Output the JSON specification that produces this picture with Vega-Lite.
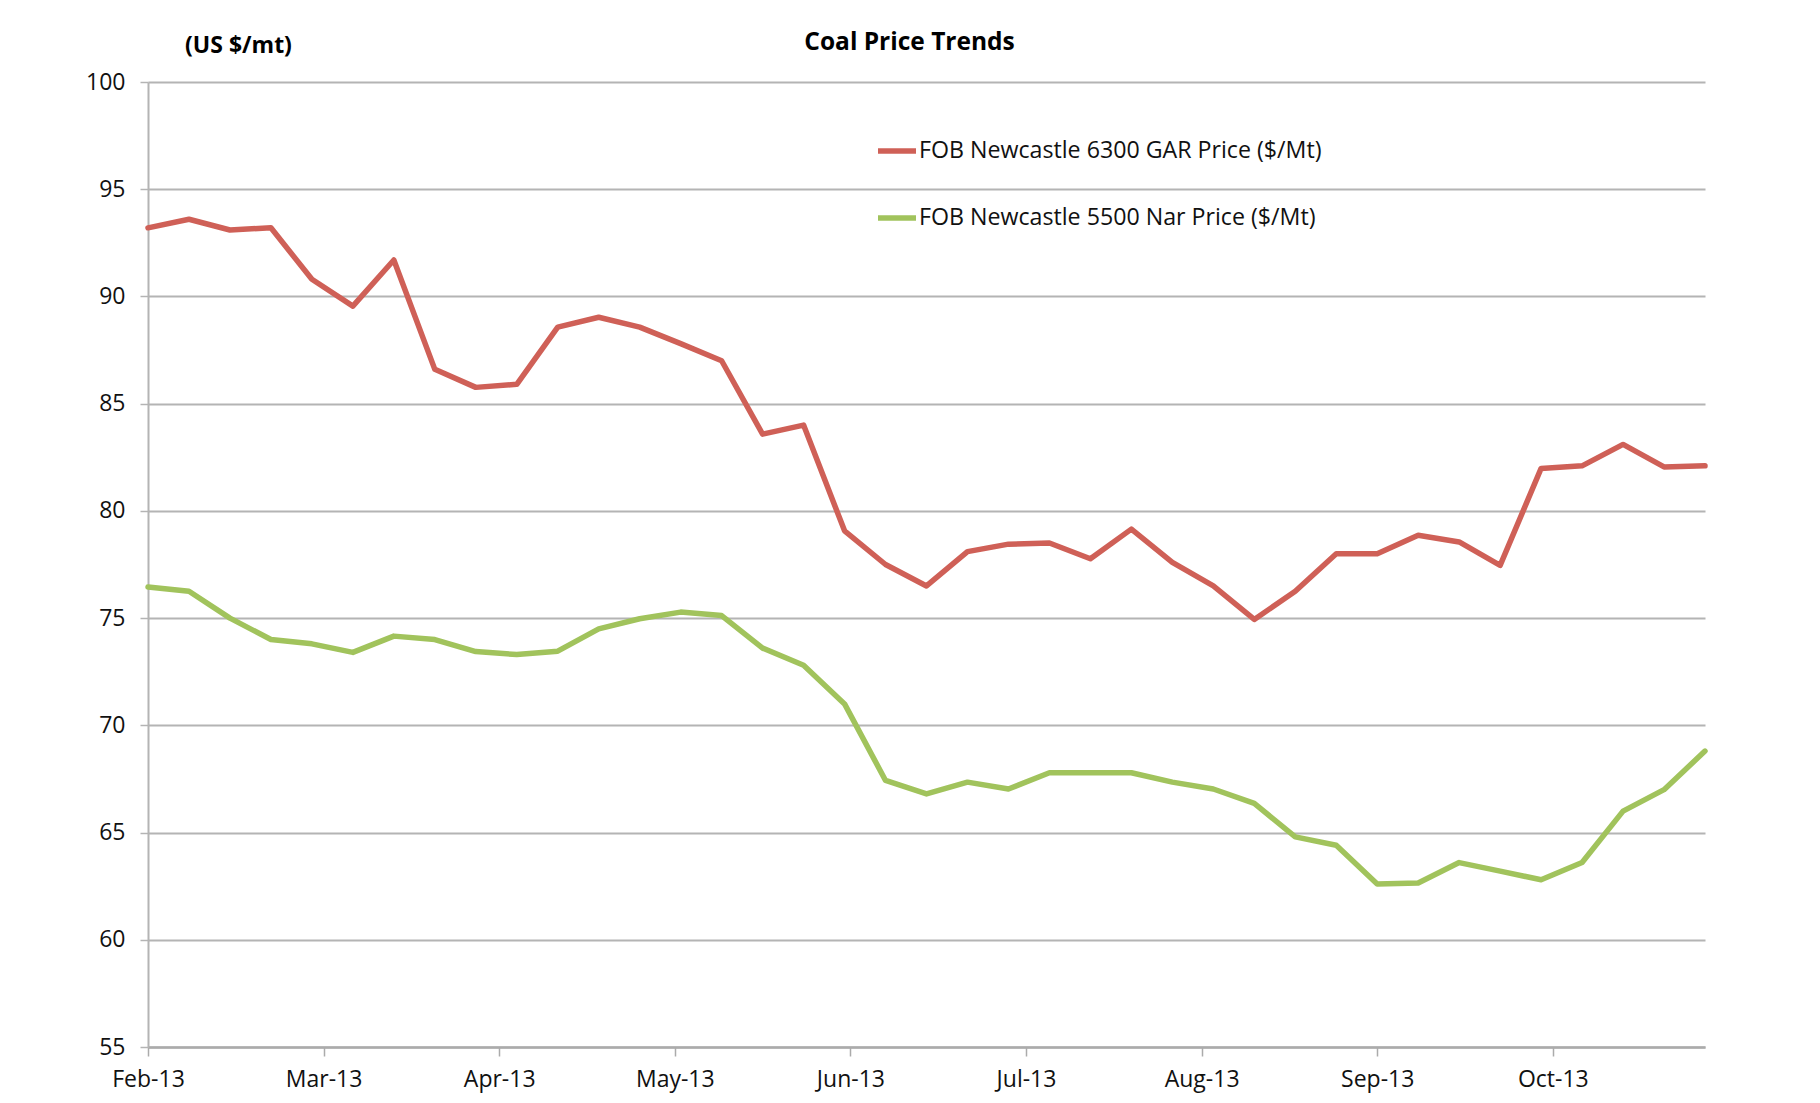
{
  "$schema": "https://vega.github.io/schema/vega-lite/v6.json",
  "width": 1557,
  "height": 965,
  "autosize": "none",
  "padding": {"left": 148, "top": 82, "right": 115, "bottom": 56},
  "background": "white",
  "title": {"text": "Coal Price Trends", "font": "Open Sans", "fontSize": 24.5, "fontWeight": "bold", "color": "#000000", "anchor": "middle", "dx": -17, "offset": -21},
  "data": {"values": [
    {"date": "2013-02-04", "series": "FOB Newcastle 6300 GAR Price ($/Mt)", "price": 93.2},
    {"date": "2013-02-11", "series": "FOB Newcastle 6300 GAR Price ($/Mt)", "price": 93.6},
    {"date": "2013-02-18", "series": "FOB Newcastle 6300 GAR Price ($/Mt)", "price": 93.1},
    {"date": "2013-02-25", "series": "FOB Newcastle 6300 GAR Price ($/Mt)", "price": 93.2},
    {"date": "2013-03-04", "series": "FOB Newcastle 6300 GAR Price ($/Mt)", "price": 90.8},
    {"date": "2013-03-11", "series": "FOB Newcastle 6300 GAR Price ($/Mt)", "price": 89.55},
    {"date": "2013-03-18", "series": "FOB Newcastle 6300 GAR Price ($/Mt)", "price": 91.7},
    {"date": "2013-03-25", "series": "FOB Newcastle 6300 GAR Price ($/Mt)", "price": 86.6},
    {"date": "2013-04-01", "series": "FOB Newcastle 6300 GAR Price ($/Mt)", "price": 85.76},
    {"date": "2013-04-08", "series": "FOB Newcastle 6300 GAR Price ($/Mt)", "price": 85.9},
    {"date": "2013-04-15", "series": "FOB Newcastle 6300 GAR Price ($/Mt)", "price": 88.57},
    {"date": "2013-04-22", "series": "FOB Newcastle 6300 GAR Price ($/Mt)", "price": 89.03},
    {"date": "2013-04-29", "series": "FOB Newcastle 6300 GAR Price ($/Mt)", "price": 88.57},
    {"date": "2013-05-06", "series": "FOB Newcastle 6300 GAR Price ($/Mt)", "price": 87.8},
    {"date": "2013-05-13", "series": "FOB Newcastle 6300 GAR Price ($/Mt)", "price": 87.0},
    {"date": "2013-05-20", "series": "FOB Newcastle 6300 GAR Price ($/Mt)", "price": 83.58},
    {"date": "2013-05-27", "series": "FOB Newcastle 6300 GAR Price ($/Mt)", "price": 84.0},
    {"date": "2013-06-03", "series": "FOB Newcastle 6300 GAR Price ($/Mt)", "price": 79.07},
    {"date": "2013-06-10", "series": "FOB Newcastle 6300 GAR Price ($/Mt)", "price": 77.5},
    {"date": "2013-06-17", "series": "FOB Newcastle 6300 GAR Price ($/Mt)", "price": 76.5},
    {"date": "2013-06-24", "series": "FOB Newcastle 6300 GAR Price ($/Mt)", "price": 78.1},
    {"date": "2013-07-01", "series": "FOB Newcastle 6300 GAR Price ($/Mt)", "price": 78.45},
    {"date": "2013-07-08", "series": "FOB Newcastle 6300 GAR Price ($/Mt)", "price": 78.5},
    {"date": "2013-07-15", "series": "FOB Newcastle 6300 GAR Price ($/Mt)", "price": 77.77},
    {"date": "2013-07-22", "series": "FOB Newcastle 6300 GAR Price ($/Mt)", "price": 79.15},
    {"date": "2013-07-29", "series": "FOB Newcastle 6300 GAR Price ($/Mt)", "price": 77.6},
    {"date": "2013-08-05", "series": "FOB Newcastle 6300 GAR Price ($/Mt)", "price": 76.5},
    {"date": "2013-08-12", "series": "FOB Newcastle 6300 GAR Price ($/Mt)", "price": 74.94},
    {"date": "2013-08-19", "series": "FOB Newcastle 6300 GAR Price ($/Mt)", "price": 76.25},
    {"date": "2013-08-26", "series": "FOB Newcastle 6300 GAR Price ($/Mt)", "price": 78.0},
    {"date": "2013-09-02", "series": "FOB Newcastle 6300 GAR Price ($/Mt)", "price": 78.0},
    {"date": "2013-09-09", "series": "FOB Newcastle 6300 GAR Price ($/Mt)", "price": 78.86},
    {"date": "2013-09-16", "series": "FOB Newcastle 6300 GAR Price ($/Mt)", "price": 78.55},
    {"date": "2013-09-23", "series": "FOB Newcastle 6300 GAR Price ($/Mt)", "price": 77.46},
    {"date": "2013-09-30", "series": "FOB Newcastle 6300 GAR Price ($/Mt)", "price": 81.98},
    {"date": "2013-10-07", "series": "FOB Newcastle 6300 GAR Price ($/Mt)", "price": 82.1},
    {"date": "2013-10-14", "series": "FOB Newcastle 6300 GAR Price ($/Mt)", "price": 83.1},
    {"date": "2013-10-21", "series": "FOB Newcastle 6300 GAR Price ($/Mt)", "price": 82.05},
    {"date": "2013-10-28", "series": "FOB Newcastle 6300 GAR Price ($/Mt)", "price": 82.1},
    {"date": "2013-02-04", "series": "FOB Newcastle 5500 Nar Price ($/Mt)", "price": 76.45},
    {"date": "2013-02-11", "series": "FOB Newcastle 5500 Nar Price ($/Mt)", "price": 76.25},
    {"date": "2013-02-18", "series": "FOB Newcastle 5500 Nar Price ($/Mt)", "price": 75.0},
    {"date": "2013-02-25", "series": "FOB Newcastle 5500 Nar Price ($/Mt)", "price": 74.0},
    {"date": "2013-03-04", "series": "FOB Newcastle 5500 Nar Price ($/Mt)", "price": 73.8},
    {"date": "2013-03-11", "series": "FOB Newcastle 5500 Nar Price ($/Mt)", "price": 73.4},
    {"date": "2013-03-18", "series": "FOB Newcastle 5500 Nar Price ($/Mt)", "price": 74.16},
    {"date": "2013-03-25", "series": "FOB Newcastle 5500 Nar Price ($/Mt)", "price": 74.0},
    {"date": "2013-04-01", "series": "FOB Newcastle 5500 Nar Price ($/Mt)", "price": 73.44},
    {"date": "2013-04-08", "series": "FOB Newcastle 5500 Nar Price ($/Mt)", "price": 73.3},
    {"date": "2013-04-15", "series": "FOB Newcastle 5500 Nar Price ($/Mt)", "price": 73.46},
    {"date": "2013-04-22", "series": "FOB Newcastle 5500 Nar Price ($/Mt)", "price": 74.5},
    {"date": "2013-04-29", "series": "FOB Newcastle 5500 Nar Price ($/Mt)", "price": 74.97},
    {"date": "2013-05-06", "series": "FOB Newcastle 5500 Nar Price ($/Mt)", "price": 75.28},
    {"date": "2013-05-13", "series": "FOB Newcastle 5500 Nar Price ($/Mt)", "price": 75.12},
    {"date": "2013-05-20", "series": "FOB Newcastle 5500 Nar Price ($/Mt)", "price": 73.6},
    {"date": "2013-05-27", "series": "FOB Newcastle 5500 Nar Price ($/Mt)", "price": 72.8},
    {"date": "2013-06-03", "series": "FOB Newcastle 5500 Nar Price ($/Mt)", "price": 71.0},
    {"date": "2013-06-10", "series": "FOB Newcastle 5500 Nar Price ($/Mt)", "price": 67.43},
    {"date": "2013-06-17", "series": "FOB Newcastle 5500 Nar Price ($/Mt)", "price": 66.8},
    {"date": "2013-06-24", "series": "FOB Newcastle 5500 Nar Price ($/Mt)", "price": 67.35},
    {"date": "2013-07-01", "series": "FOB Newcastle 5500 Nar Price ($/Mt)", "price": 67.03},
    {"date": "2013-07-08", "series": "FOB Newcastle 5500 Nar Price ($/Mt)", "price": 67.79},
    {"date": "2013-07-15", "series": "FOB Newcastle 5500 Nar Price ($/Mt)", "price": 67.79},
    {"date": "2013-07-22", "series": "FOB Newcastle 5500 Nar Price ($/Mt)", "price": 67.79},
    {"date": "2013-07-29", "series": "FOB Newcastle 5500 Nar Price ($/Mt)", "price": 67.35},
    {"date": "2013-08-05", "series": "FOB Newcastle 5500 Nar Price ($/Mt)", "price": 67.03},
    {"date": "2013-08-12", "series": "FOB Newcastle 5500 Nar Price ($/Mt)", "price": 66.36},
    {"date": "2013-08-19", "series": "FOB Newcastle 5500 Nar Price ($/Mt)", "price": 64.8},
    {"date": "2013-08-26", "series": "FOB Newcastle 5500 Nar Price ($/Mt)", "price": 64.41},
    {"date": "2013-09-02", "series": "FOB Newcastle 5500 Nar Price ($/Mt)", "price": 62.6},
    {"date": "2013-09-09", "series": "FOB Newcastle 5500 Nar Price ($/Mt)", "price": 62.65},
    {"date": "2013-09-16", "series": "FOB Newcastle 5500 Nar Price ($/Mt)", "price": 63.6},
    {"date": "2013-09-23", "series": "FOB Newcastle 5500 Nar Price ($/Mt)", "price": 63.2},
    {"date": "2013-09-30", "series": "FOB Newcastle 5500 Nar Price ($/Mt)", "price": 62.8},
    {"date": "2013-10-07", "series": "FOB Newcastle 5500 Nar Price ($/Mt)", "price": 63.6},
    {"date": "2013-10-14", "series": "FOB Newcastle 5500 Nar Price ($/Mt)", "price": 66.0},
    {"date": "2013-10-21", "series": "FOB Newcastle 5500 Nar Price ($/Mt)", "price": 67.0},
    {"date": "2013-10-28", "series": "FOB Newcastle 5500 Nar Price ($/Mt)", "price": 68.8}
  ]},
  "mark": {"type": "line", "strokeWidth": 5.5, "strokeJoin": "round", "strokeCap": "round"},
  "encoding": {
    "x": {
      "field": "date", "type": "temporal",
      "scale": {"type": "utc", "domain": [{"year": 2013, "month": 2, "date": 4, "utc": true}, {"year": 2013, "month": 10, "date": 28, "utc": true}]},
      "axis": {
        "title": null,
        "values": [
          {"year": 2013, "month": 2, "date": 4, "utc": true},
          {"year": 2013, "month": 3, "date": 6, "utc": true},
          {"year": 2013, "month": 4, "date": 5, "utc": true},
          {"year": 2013, "month": 5, "date": 5, "utc": true},
          {"year": 2013, "month": 6, "date": 4, "utc": true},
          {"year": 2013, "month": 7, "date": 4, "utc": true},
          {"year": 2013, "month": 8, "date": 3, "utc": true},
          {"year": 2013, "month": 9, "date": 2, "utc": true},
          {"year": 2013, "month": 10, "date": 2, "utc": true}
        ],
        "format": "%b-%y",
        "grid": false,
        "domainColor": "#ababab", "domainWidth": 2.5,
        "tickColor": "#ababab", "tickWidth": 1.5, "tickSize": 9,
        "labelFont": "Open Sans", "labelFontSize": 23, "labelColor": "#111111",
        "labelPadding": 12, "labelFlush": false, "labelOverlap": false
      }
    },
    "y": {
      "field": "price", "type": "quantitative",
      "scale": {"domain": [55, 100], "nice": false, "zero": false},
      "axis": {
        "values": [55, 60, 65, 70, 75, 80, 85, 90, 95, 100],
        "title": "(US $/mt)",
        "titleAngle": 0, "titleX": 90, "titleY": -37, "titleAlign": "center", "titleBaseline": "middle",
        "titleFont": "Open Sans", "titleFontSize": 23, "titleFontWeight": "bold", "titleColor": "#000000",
        "grid": true, "gridColor": "#b4b4b4", "gridWidth": 2,
        "domainColor": "#b4b4b4", "domainWidth": 2,
        "tickColor": "#b4b4b4", "tickWidth": 1.5, "tickSize": 8,
        "labelFont": "Open Sans", "labelFontSize": 23, "labelColor": "#111111",
        "labelPadding": 15
      }
    },
    "color": {
      "field": "series", "type": "nominal",
      "scale": {"domain": ["FOB Newcastle 6300 GAR Price ($/Mt)", "FOB Newcastle 5500 Nar Price ($/Mt)"], "range": ["#cf6057", "#a1c35c"]},
      "legend": {
        "title": null, "orient": "none", "legendX": 727, "legendY": 47,
        "symbolType": "stroke", "symbolSize": 1444, "symbolStrokeWidth": 5.5,
        "labelFont": "Open Sans", "labelFontSize": 23.2, "labelColor": "#111111", "labelLimit": 800,
        "labelOffset": 0, "rowPadding": 33
      }
    }
  },
  "config": {"view": {"stroke": null}}
}
